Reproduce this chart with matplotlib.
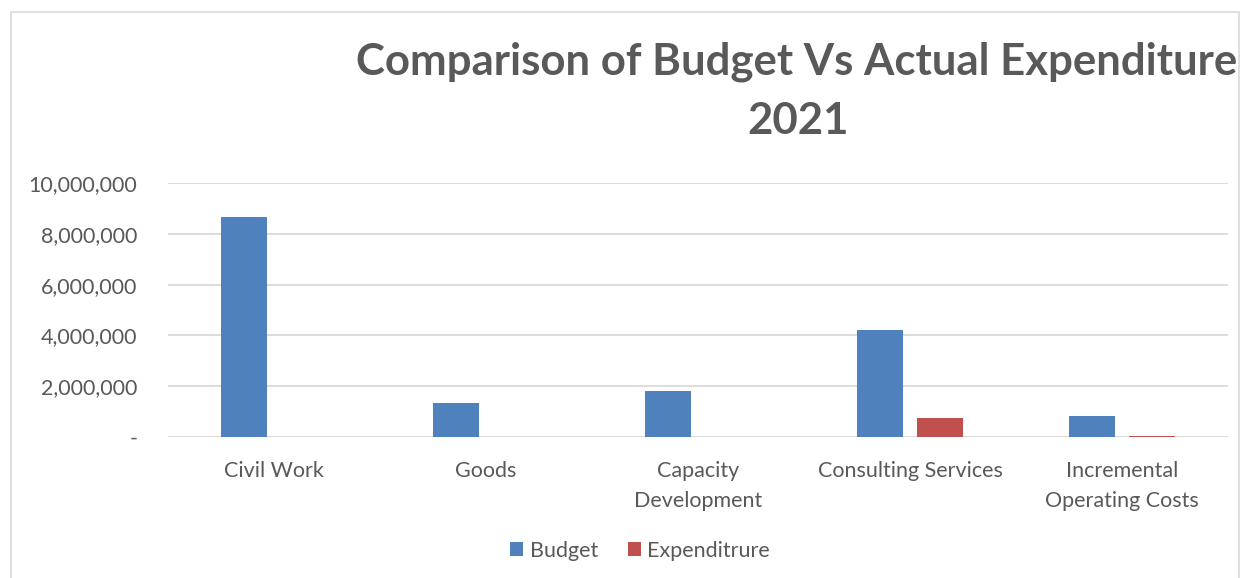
import numpy as np
import matplotlib.pyplot as plt
from matplotlib.patches import Rectangle
from matplotlib.ticker import FuncFormatter

categories = ["Civil Work", "Goods", "Capacity\nDevelopment",
              "Consulting Services", "Incremental\nOperating Costs"]
budget = [8660000, 1340000, 1810000, 4210000, 830000]
expenditure = [0, 0, 0, 750000, 40000]

plt.rcParams["font.family"] = ["Lato", "DejaVu Sans"]
textColor = "#595959"

fig = plt.figure(figsize=(12.43, 5.78), dpi=100)
# Outer chart border
fig.patches.append(Rectangle((0.009, -0.01), 0.988, 0.99, transform=fig.transFigure,
                             fill=False, edgecolor="#d9d9d9", linewidth=1.2))

ax = fig.add_axes([0.135, 0.244, 0.853, 0.439])
x = np.arange(len(categories))
w = 0.217
off = 0.142
ax.bar(x - off, budget, w, color="#4f81bd", label="Budget", zorder=3)
ax.bar(x + off, expenditure, w, color="#c0504d", label="Expenditrure", zorder=3)

ax.set_xlim(-0.5, len(categories) - 0.5)
ax.set_ylim(0, 10000000)
ax.set_yticks(np.arange(0, 10000001, 2000000))
ax.yaxis.set_major_formatter(FuncFormatter(lambda v, p: "-" if v == 0 else f"{v:,.0f}"))
ax.set_xticks(x)
ax.set_xticklabels(categories, linespacing=1.65)
ax.tick_params(axis="both", length=0, labelsize=15.5, colors=textColor)
ax.tick_params(axis="x", pad=17)
ax.tick_params(axis="y", pad=22)
ax.grid(axis="y", color="#d9d9d9", linewidth=1.3, zorder=0)
for s in ax.spines.values():
    s.set_visible(False)

fig.text(0.641, 0.893, "Comparison of Budget Vs Actual Expenditure", ha="center", va="center",
         fontsize=31.5, fontweight="bold", color=textColor)
fig.text(0.642, 0.79, "2021", ha="center", va="center",
         fontsize=31.5, fontweight="bold", color=textColor)

fig.legend(loc="center", bbox_to_anchor=(0.515, 0.047), ncol=2, frameon=False,
           fontsize=15.5, labelcolor=textColor, handlelength=0.6, handleheight=0.6,
           handletextpad=0.3, columnspacing=1.4)

fig.savefig("out.png", dpi=100)
